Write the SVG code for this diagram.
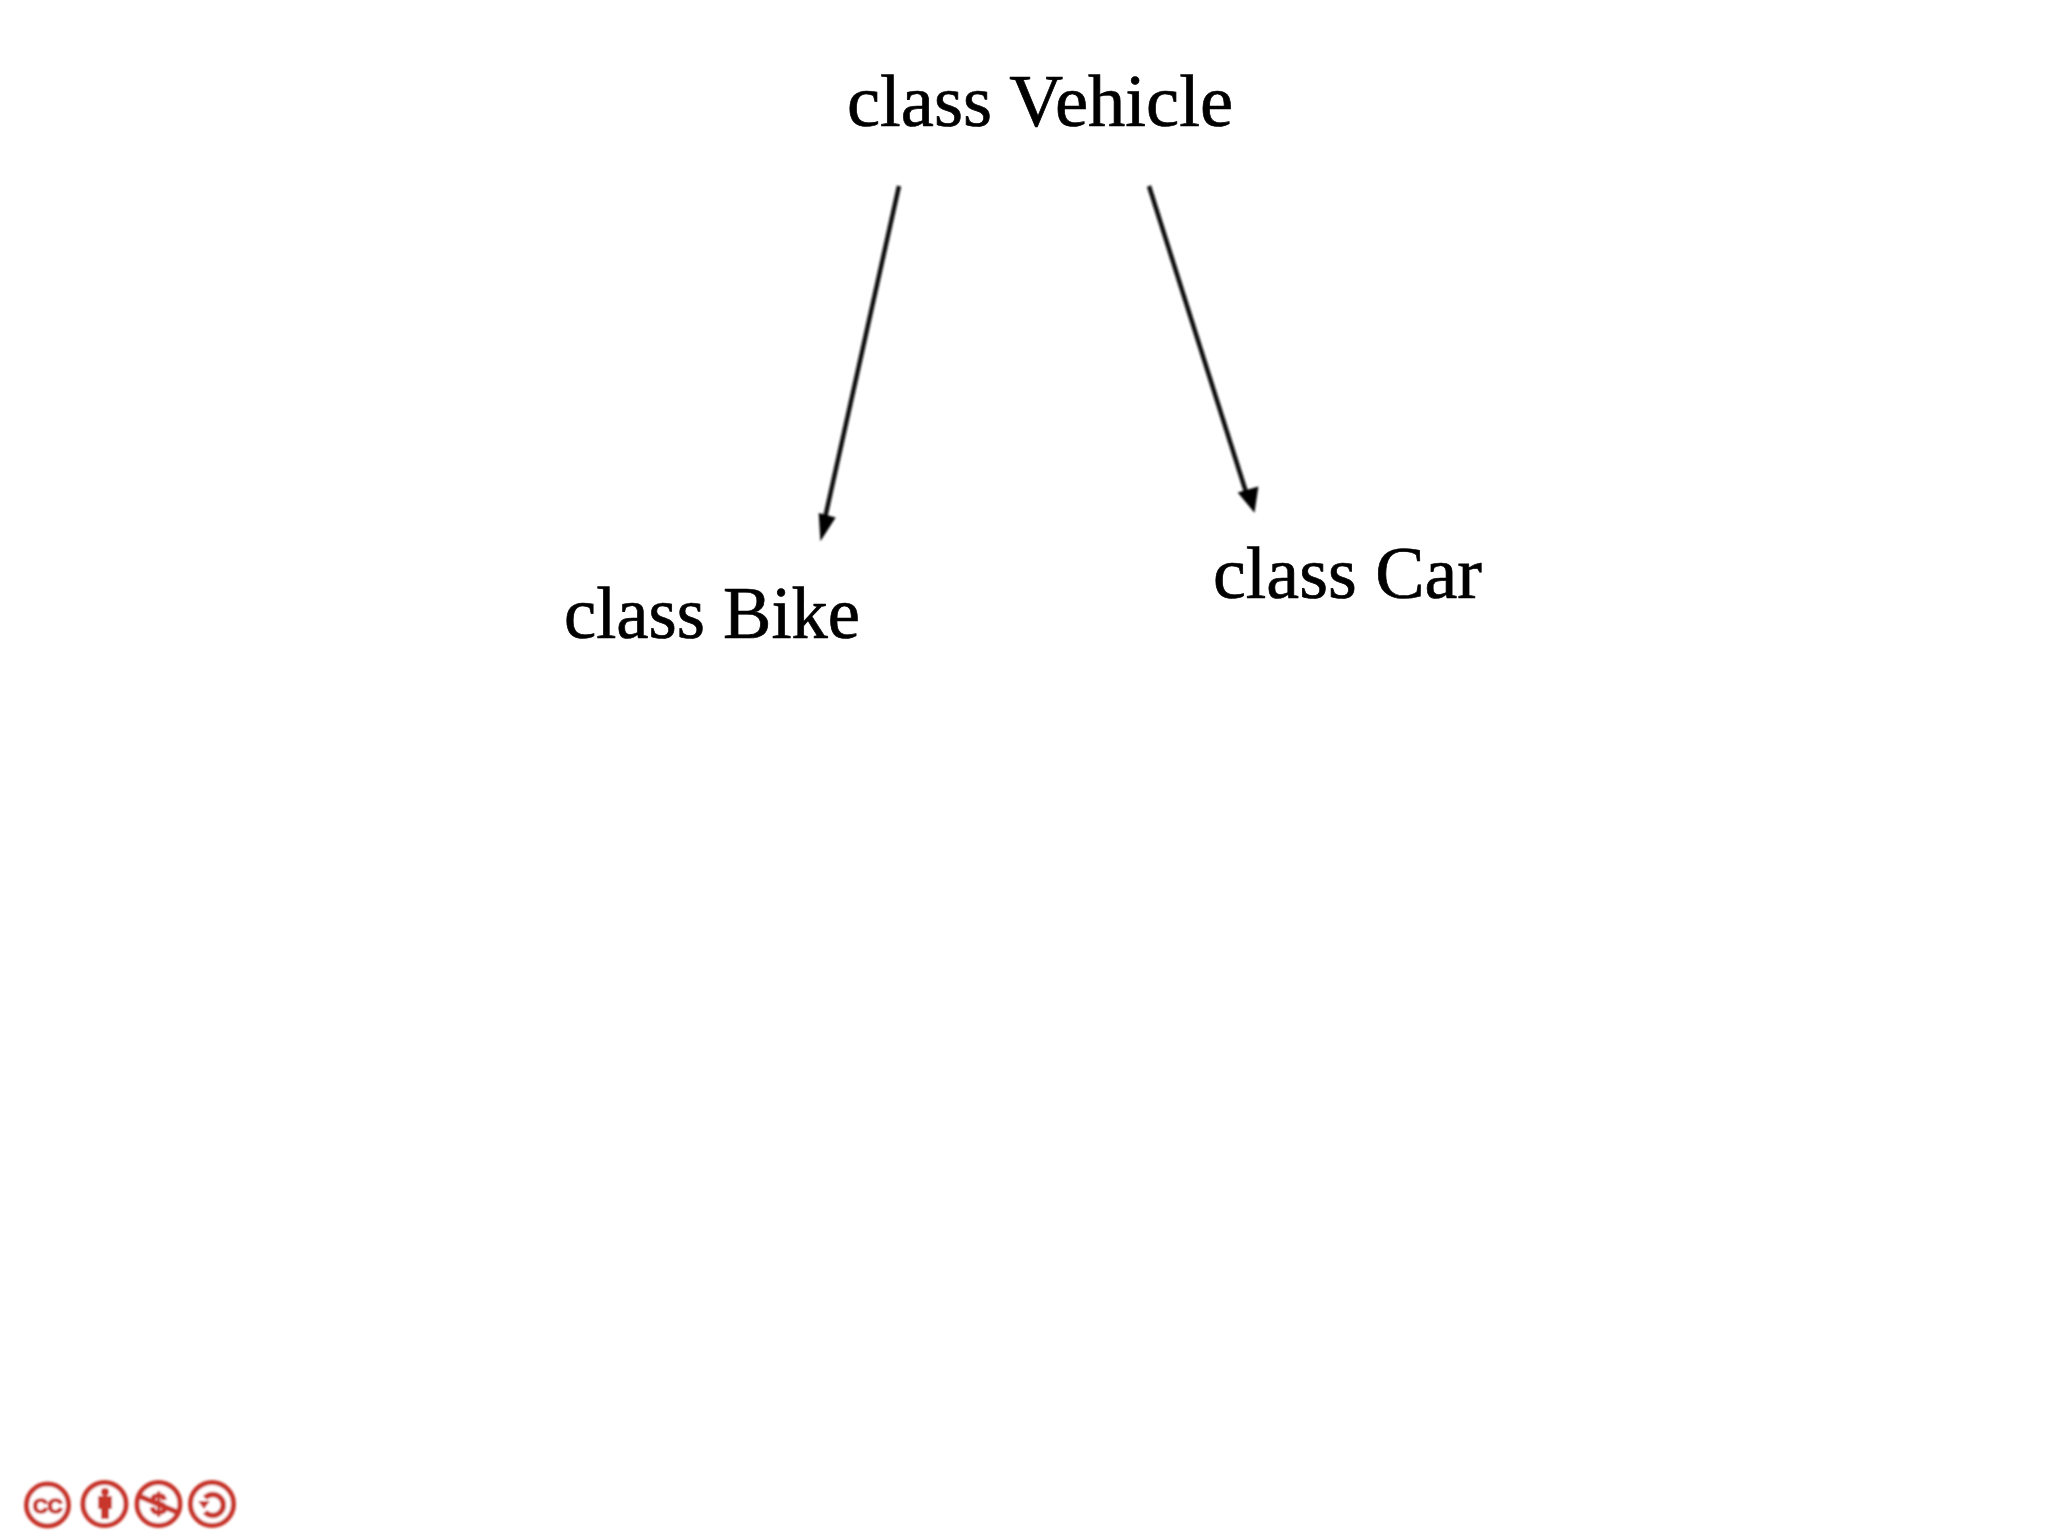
<svg xmlns="http://www.w3.org/2000/svg" width="2048" height="1536" viewBox="0 0 2048 1536">
  <style>
    .label { font-family: "Liberation Serif", "Times New Roman", serif; font-size: 73px; fill: #000; stroke: #000; stroke-width: 0.7px; }
    .edge { stroke: #111; stroke-width: 4.5; fill: none; }
    .head { fill: #000; stroke: #000; stroke-width: 1.5; }
    .ring { fill: #fff; stroke: #c8352b; stroke-width: 5; }
    .ink { fill: #c8352b; stroke: none; }
    .inkline { fill: none; stroke: #c8352b; stroke-width: 5.5; }
    .badge { font-family: "Liberation Sans", Arial, sans-serif; font-weight: 700; fill: #c8352b; stroke: #c8352b; stroke-width: 1.5px; text-anchor: middle; }
  </style>
  <defs>
    <filter id="soft" x="-20%" y="-20%" width="140%" height="140%"><feGaussianBlur stdDeviation="0.8"/></filter>
  </defs>
  <rect width="2048" height="1536" fill="#fff"/>
  <g id="connectors" filter="url(#soft)">
    <line class="edge" x1="899" y1="186" x2="825" y2="518"/>
    <polygon class="head" points="821,539 819.500,514 834.500,518"/>
    <line class="edge" x1="1149" y1="186" x2="1246" y2="492"/>
    <polygon class="head" points="1254,511 1239,493 1257.500,487.500"/>
  </g>
  <g id="node-vehicle"><text class="label" x="847" y="126" textLength="386" lengthAdjust="spacingAndGlyphs">class Vehicle</text></g>
  <g id="node-bike"><text class="label" x="564" y="638" textLength="296" lengthAdjust="spacingAndGlyphs">class Bike</text></g>
  <g id="node-car"><text class="label" x="1213" y="597.500" textLength="269" lengthAdjust="spacingAndGlyphs">class Car</text></g>
  <g id="license-badges" filter="url(#soft)">
    <g id="badge-cc">
      <circle class="ring" cx="47.5" cy="1505" r="21"/>
      <text class="badge" x="47.500" y="1512.500" font-size="21" letter-spacing="-0.500">CC</text>
    </g>
    <g id="badge-by">
      <circle class="ring" cx="104.5" cy="1504" r="21.5"/>
      <circle class="ink" cx="105" cy="1492" r="4"/>
      <path class="ink" d="M98 1496h14v13h-3v10h-8v-10h-3z"/>
    </g>
    <g id="badge-nc">
      <circle class="ring" cx="158.500" cy="1504" r="21.500"/>
      <text class="badge" x="158.500" y="1514" font-size="30">$</text>
      <line class="inkline" x1="139" y1="1496" x2="179" y2="1513"/>
    </g>
    <g id="badge-sa">
      <circle class="ring" cx="212" cy="1504" r="21.500"/>
      <path class="inkline" d="M205 1498a10.500 10.500 0 1 1 0 14"/>
      <polygon class="ink" points="198,1501 210,1501 204,1509"/>
    </g>
  </g>
</svg>
